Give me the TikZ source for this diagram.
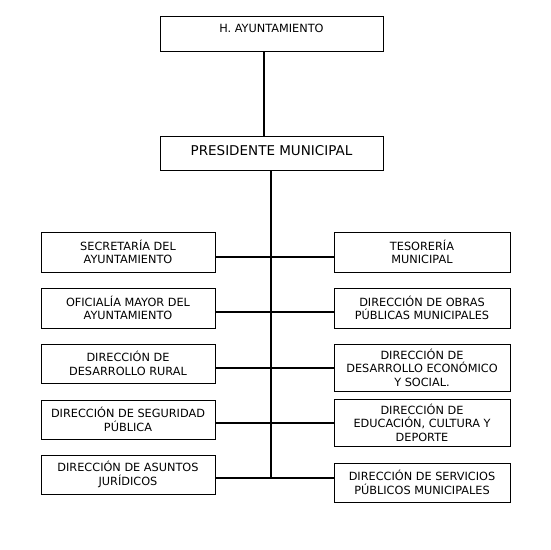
\documentclass[tikz,border=0pt]{standalone}
\usepackage{fontspec}
\setmainfont{DejaVu Sans}
\usetikzlibrary{positioning}
\tikzset{
	box/.style={draw,rectangle,align=center,line width=0.9pt,inner sep=1pt,
		font=\fontsize{11.3}{13.5}\selectfont},
	lbox/.style={box,minimum width=174pt},
	rbox/.style={box,minimum width=176pt},
	link/.style={line width=1.1pt}
}

\begin{document}
\begin{tikzpicture}[x=1pt,y=-1pt]
	\useasboundingbox (0,0) rectangle (550,550);
	% top of the chart
	\node[box,minimum width=223pt,text height=15.5pt,text depth=17.5pt] (ayu) at (271.5,33.5) {H. AYUNTAMIENTO};
	\node[box,minimum width=223pt,text height=18pt,text depth=14pt,
		font=\fontsize{13.5}{16}\selectfont] (pres) at (271.5,153) {PRESIDENTE MUNICIPAL};
	\draw[link] ([xshift=-7.5pt]ayu.south) -- ([xshift=-7.5pt]pres.north);
	% left column
	\node[lbox,minimum height=40pt] (sec) at (128,252) {SECRETARÍA DEL\\AYUNTAMIENTO};
	\node[lbox,minimum height=40pt] (ofi) at (128,308) {OFICIALÍA MAYOR DEL\\AYUNTAMIENTO};
	\node[lbox,minimum height=39pt] (rur) at (128,363.5) {DIRECCIÓN DE\\DESARROLLO RURAL};
	\node[lbox,minimum height=39pt] (seg) at (128,419.5) {DIRECCIÓN DE SEGURIDAD\\PÚBLICA};
	\node[lbox,minimum height=39pt] (jur) at (128,474.5) {DIRECCIÓN DE ASUNTOS\\JURÍDICOS};
	% right column
	\node[rbox,minimum height=40pt] (tes) at (422,252) {TESORERÍA\\MUNICIPAL};
	\node[rbox,minimum height=40pt] (obr) at (422,308) {DIRECCIÓN DE OBRAS\\PÚBLICAS MUNICIPALES};
	\node[rbox,minimum height=47pt] (eco) at (422,367.5) {DIRECCIÓN DE\\DESARROLLO ECONÓMICO\\Y SOCIAL.};
	\node[rbox,minimum height=47pt] (edu) at (422,422.5) {DIRECCIÓN DE\\EDUCACIÓN, CULTURA Y\\DEPORTE};
	\node[rbox,minimum height=39pt] (ser) at (422,482.5) {DIRECCIÓN DE SERVICIOS\\PÚBLICOS MUNICIPALES};
	% trunk and branches
	\coordinate (j1) at (271,257);
	\coordinate (j2) at (271,312);
	\coordinate (j3) at (271,368);
	\coordinate (j4) at (271,423);
	\coordinate (j5) at (271,478);
	\draw[link] (pres.south -| j5) -- (j5);
	\draw[link] (j1 -| sec.east) -- (j1 -| tes.west);
	\draw[link] (j2 -| ofi.east) -- (j2 -| obr.west);
	\draw[link] (j3 -| rur.east) -- (j3 -| eco.west);
	\draw[link] (j4 -| seg.east) -- (j4 -| edu.west);
	\draw[link] (j5 -| jur.east) -- (j5 -| ser.west);
\end{tikzpicture}
\end{document}
